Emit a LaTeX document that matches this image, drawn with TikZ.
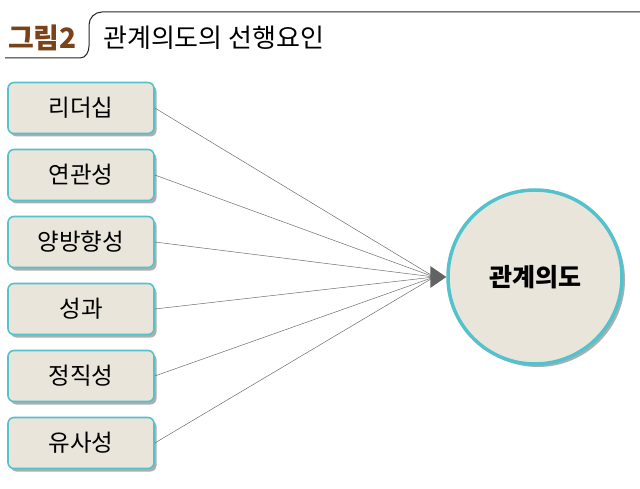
\documentclass[tikz,border=0pt]{standalone}
\usepackage{fontspec}
\setmainfont{Noto Sans CJK KR}
\newfontfamily\krmed{Noto Sans CJK KR Medium}
\usetikzlibrary{shadows,arrows.meta}
\definecolor{teal1}{HTML}{52C2CC}
\definecolor{boxfill}{HTML}{E9E5DB}
\definecolor{brownt}{HTML}{7A4218}
\definecolor{linegray}{HTML}{6E6E6E}
\tikzset{
  factor/.style={draw=teal1, line width=1.6pt, fill=boxfill, rounded corners=6pt,
    minimum width=146pt, minimum height=51pt, inner sep=0pt, font=\fontsize{23.5}{23.5}\selectfont,
    drop shadow={shadow xshift=2.5pt, shadow yshift=-3pt, opacity=0.45, fill=black!70}},
  target/.style={circle, draw=teal1, line width=3.5pt, fill=boxfill, minimum size=174pt, inner sep=0pt,
    font=\fontsize{25}{25}\selectfont\bfseries,
    drop shadow={shadow xshift=3pt, shadow yshift=-3pt, opacity=0.45, fill=black!70}},
  conn/.style={draw=linegray, line width=0.5pt},
}
\begin{document}
\begin{tikzpicture}[x=1pt,y=-1pt]
\useasboundingbox[fill=white] (0,0) rectangle (640,489);
% title
\node[anchor=west, text=brownt, inner sep=0pt, font=\fontsize{28}{28}\selectfont\bfseries] (fig) at (8,38) {그림2};
\node[anchor=west, inner sep=0pt, font=\fontsize{26}{26}\selectfont] (title) at (103,38) {관계의도의 선행요인};
\draw[line width=1pt, black!85] (5,58) -- (80,58) to[out=0,in=-90] (89,46) -- (89,25) to[out=90,in=180] (102,12) -- (640,12);
% factors
\node[factor] (f1) at (81,108) {리더십};
\node[factor] (f2) at (81,175) {연관성};
\node[factor] (f3) at (81,242) {양방향성};
\node[factor] (f4) at (81,309) {성과};
\node[factor] (f5) at (81,376) {정직성};
\node[factor] (f6) at (81,443) {유사성};
% target
\node[target] (t) at (535,277) {관계의도};
\coordinate (tip) at (t.west);
\coordinate (conv) at ([xshift=-12pt]t.west);
\foreach \i in {1,...,6}{
  \draw[conn] (f\i.east) -- (conv);
}
\fill[linegray!90!black] (tip) -- ([xshift=-16pt,yshift=-11pt]tip) -- ([xshift=-16pt,yshift=11pt]tip) -- cycle;
\end{tikzpicture}
\end{document}
